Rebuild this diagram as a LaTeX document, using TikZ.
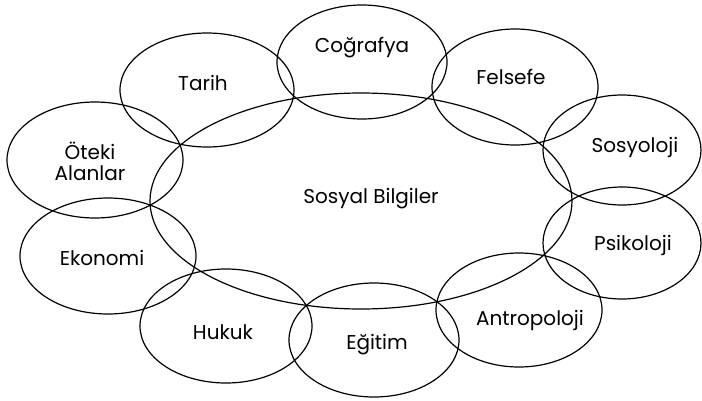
\documentclass[tikz,border=0pt]{standalone}
\usepackage{fontspec}
\setmainfont{Poppins}
\usetikzlibrary{shapes.geometric}
\tikzset{
  field/.style={draw=black, ellipse, line width=1.2pt, inner sep=0pt},
  lbl/.style={font=\fontsize{20}{21}\selectfont, inner sep=0pt, align=center, text=black}
}
\begin{document}
\begin{tikzpicture}[x=1pt,y=-1pt]
\useasboundingbox (0,0) rectangle (702,400);
% ellipses
\node[field, minimum width=422pt, minimum height=216pt] (center) at (361,201) {};
\node[field, minimum width=174pt, minimum height=114pt] (tarih) at (207,90) {};
\node[field, minimum width=170pt, minimum height=114pt] (cografya) at (362,62) {};
\node[field, minimum width=166pt, minimum height=116pt] (felsefe) at (515,87) {};
\node[field, minimum width=158pt, minimum height=110pt] (sosyoloji) at (622,150) {};
\node[field, minimum width=158pt, minimum height=112pt] (psikoloji) at (622,243) {};
\node[field, minimum width=166pt, minimum height=114pt] (antropoloji) at (519,310) {};
\node[field, minimum width=170pt, minimum height=114pt] (egitim) at (374,340) {};
\node[field, minimum width=172pt, minimum height=114pt] (hukuk) at (226,326) {};
\node[field, minimum width=176pt, minimum height=116pt] (ekonomi) at (108,256) {};
\node[field, minimum width=176pt, minimum height=116pt] (oteki) at (95,160) {};
% labels
\node[lbl] (tcenter) at (371,199) {Sosyal Bilgiler};
\node[lbl] (ttarih) at (203,83) {Tarih};
\node[lbl] (tcografya) at (362,48) {Coğrafya};
\node[lbl] (tfelsefe) at (511,77) {Felsefe};
\node[lbl] (tsosyoloji) at (635,147) {Sosyoloji};
\node[lbl] (tpsikoloji) at (633,245) {Psikoloji};
\node[lbl] (tantropoloji) at (530,320) {Antropoloji};
\node[lbl] (tegitim) at (377,345) {Eğitim};
\node[lbl] (thukuk) at (223,332) {Hukuk};
\node[lbl] (tekonomi) at (102,258) {Ekonomi};
\node[lbl] (toteki) at (90,161) {Öteki\\Alanlar};
\end{tikzpicture}
\end{document}
